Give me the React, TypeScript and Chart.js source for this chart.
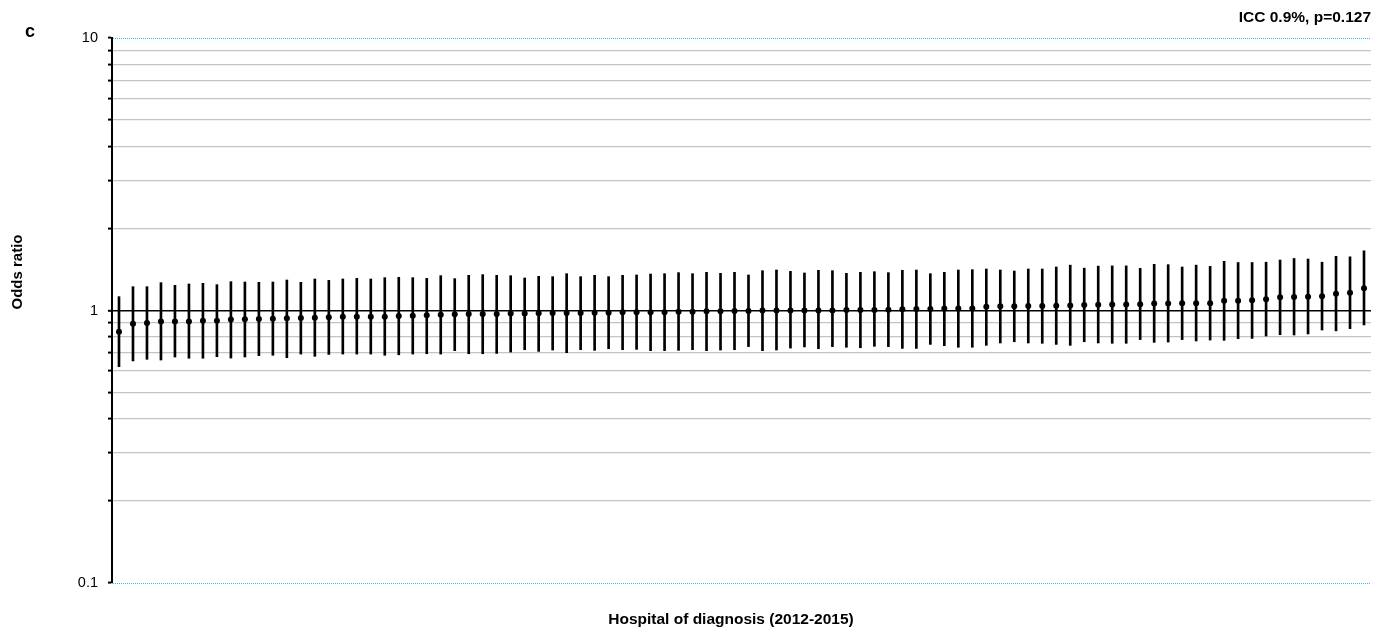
import React, { useEffect, useRef } from "react";
import { Chart, registerables } from "chart.js";

Chart.register(...registerables);

const FONT = "'Liberation Sans', Arial, Helvetica, sans-serif";

const hospitalCount = 90;
const hospitals: string[] = Array.from({ length: hospitalCount }, (_, i) => `Hospital ${i + 1}`);

const oddsRatio: number[] = [
  0.836, 0.895, 0.900, 0.912, 0.912, 0.912, 0.918, 0.918, 0.926, 0.928,
  0.931, 0.933, 0.936, 0.939, 0.941, 0.944, 0.949, 0.949, 0.949, 0.949,
  0.955, 0.957, 0.960, 0.965, 0.968, 0.971, 0.971, 0.971, 0.974, 0.974,
  0.976, 0.979, 0.979, 0.979, 0.982, 0.982, 0.985, 0.985, 0.985, 0.985,
  0.990, 0.990, 0.993, 0.993, 0.996, 0.996, 0.999, 0.999, 1.001, 1.001,
  1.001, 1.001, 1.004, 1.004, 1.004, 1.007, 1.010, 1.013, 1.013, 1.016,
  1.016, 1.018, 1.033, 1.036, 1.036, 1.039, 1.039, 1.042, 1.044, 1.048,
  1.050, 1.051, 1.051, 1.054, 1.062, 1.062, 1.063, 1.063, 1.063, 1.085,
  1.087, 1.090, 1.100, 1.118, 1.121, 1.124, 1.128, 1.151, 1.163, 1.206,
];

const ciUpper: number[] = [
  1.124, 1.223, 1.223, 1.265, 1.237, 1.251, 1.258, 1.244, 1.276, 1.272,
  1.269, 1.272, 1.294, 1.269, 1.305, 1.290, 1.305, 1.312, 1.305, 1.320,
  1.324, 1.320, 1.312, 1.342, 1.309, 1.346, 1.354, 1.346, 1.342, 1.316,
  1.335, 1.331, 1.365, 1.331, 1.346, 1.331, 1.346, 1.350, 1.361, 1.365,
  1.377, 1.365, 1.381, 1.369, 1.381, 1.350, 1.400, 1.408, 1.392, 1.373,
  1.404, 1.400, 1.369, 1.381, 1.388, 1.377, 1.404, 1.408, 1.365, 1.381,
  1.408, 1.412, 1.420, 1.408, 1.396, 1.420, 1.420, 1.444, 1.467, 1.430,
  1.455, 1.458, 1.458, 1.428, 1.477, 1.473, 1.444, 1.467, 1.452, 1.515,
  1.500, 1.500, 1.504, 1.532, 1.552, 1.545, 1.504, 1.580, 1.574, 1.656,
];

const ciLower: number[] = [
  0.622, 0.653, 0.662, 0.658, 0.675, 0.668, 0.668, 0.677, 0.669, 0.675,
  0.683, 0.685, 0.671, 0.692, 0.679, 0.690, 0.692, 0.692, 0.692, 0.685,
  0.688, 0.692, 0.694, 0.692, 0.712, 0.694, 0.694, 0.696, 0.704, 0.718,
  0.708, 0.716, 0.700, 0.718, 0.714, 0.724, 0.718, 0.720, 0.712, 0.712,
  0.714, 0.718, 0.712, 0.716, 0.718, 0.737, 0.712, 0.716, 0.728, 0.735,
  0.724, 0.737, 0.733, 0.730, 0.739, 0.737, 0.726, 0.726, 0.751, 0.743,
  0.733, 0.733, 0.745, 0.760, 0.768, 0.760, 0.758, 0.751, 0.745, 0.768,
  0.760, 0.758, 0.758, 0.782, 0.764, 0.766, 0.782, 0.773, 0.779, 0.777,
  0.788, 0.790, 0.806, 0.815, 0.813, 0.820, 0.848, 0.842, 0.858, 0.885,
];

const yTickValues: number[] = [
  0.1, 0.2, 0.3, 0.4, 0.5, 0.6, 0.7, 0.8, 0.9,
  1, 2, 3, 4, 5, 6, 7, 8, 9, 10,
];
const yTickLabelled: number[] = [0.1, 1, 10];

const panelLabel = "c";
const statsLabel = "ICC 0.9%, p=0.127";
const yTitle = "Odds ratio";
const xTitle = "Hospital of diagnosis (2012-2015)";

const near = (a: number, b: number) => Math.abs(a - b) < 1e-9;

const annotations = {
  id: "annotations",
  afterDraw(chart: any) {
    const { ctx, chartArea } = chart;
    const y = chart.scales.y;
    ctx.save();
    // dotted boundary lines at 10 and 0.1
    ctx.strokeStyle = "#38bcdc";
    ctx.lineWidth = 1;
    ctx.setLineDash([1, 1]);
    [10, 0.1].forEach((v) => {
      const py = Math.round(y.getPixelForValue(v)) + 0.5;
      ctx.beginPath();
      ctx.moveTo(chartArea.left + 1, py);
      ctx.lineTo(chartArea.right, py);
      ctx.stroke();
    });
    ctx.setLineDash([]);

    ctx.fillStyle = "#000";
    ctx.font = `bold 18px ${FONT}`;
    ctx.textAlign = "left";
    ctx.textBaseline = "alphabetic";
    ctx.fillText(panelLabel, 25, 37);

    ctx.font = `bold 15.5px ${FONT}`;
    ctx.textAlign = "right";
    ctx.fillText(statsLabel, chartArea.right, 22);

    ctx.textAlign = "center";
    ctx.textBaseline = "middle";
    ctx.font = `bold 15.5px ${FONT}`;
    ctx.fillText(xTitle, 731, 620);

    ctx.save();
    ctx.translate(18, 272);
    ctx.rotate(-Math.PI / 2);
    ctx.font = `bold 15px ${FONT}`;
    ctx.fillText(yTitle, 0, 0);
    ctx.restore();

    ctx.restore();
  },
};

export default function App() {
  const canvasRef = useRef<HTMLCanvasElement | null>(null);

  useEffect(() => {
    const canvas = canvasRef.current;
    if (!canvas) return;
    const chart = new Chart(canvas, {
      type: "bar",
      data: {
        labels: hospitals,
        datasets: [
          {
            type: "line",
            label: "Odds ratio",
            data: oddsRatio,
            showLine: false,
            pointRadius: 3,
            pointBackgroundColor: "#000",
            pointBorderWidth: 0,
            borderColor: "#000",
            order: 0,
          } as any,
          {
            type: "bar",
            label: "95% CI",
            data: ciLower.map((lo, i) => [lo, ciUpper[i]]),
            backgroundColor: "#000",
            borderWidth: 0,
            barThickness: 2,
            order: 1,
          } as any,
        ],
      },
      options: {
        responsive: false,
        animation: false,
        devicePixelRatio: 1,
        layout: { padding: { top: 38, right: 15, bottom: 49, left: 0 } },
        plugins: {
          legend: { display: false },
          tooltip: { enabled: false },
          title: { display: false },
        },
        scales: {
          x: {
            type: "category",
            display: false,
            offset: true,
            grid: { display: false },
          },
          y: {
            type: "logarithmic",
            position: "left",
            min: 0.1,
            max: 10,
            afterFit: (s: any) => {
              s.width = 112;
            },
            afterBuildTicks: (s: any) => {
              s.ticks = yTickValues.map((v) => ({ value: v }));
            },
            border: { display: true, color: "#000", width: 2 },
            grid: {
              color: (c: any) => {
                const v = c.tick ? c.tick.value : 0;
                if (near(v, 1)) return "#000";
                if (near(v, 10) || near(v, 0.1)) return "rgba(0,0,0,0)";
                return "#c4c4c4";
              },
              lineWidth: (c: any) => (c.tick && near(c.tick.value, 1) ? 1.6 : 1.2),
              tickColor: "#000",
              tickWidth: 2,
              tickLength: 4,
              drawTicks: true,
            },
            ticks: {
              autoSkip: false,
              color: "#000",
              padding: 10,
              font: { size: 14.5, family: FONT },
              callback: (v: any) => {
                const n = Number(v);
                const hit = yTickLabelled.find((t) => near(t, n));
                return hit !== undefined ? String(hit) : "";
              },
            },
          },
        },
      },
      plugins: [annotations],
    });
    return () => chart.destroy();
  }, []);

  return (
    <div style={{ position: "absolute", left: 0, top: 0, width: 1386, height: 632, background: "#fff" }}>
      <canvas ref={canvasRef} width={1386} height={632} style={{ display: "block" }} />
    </div>
  );
}
